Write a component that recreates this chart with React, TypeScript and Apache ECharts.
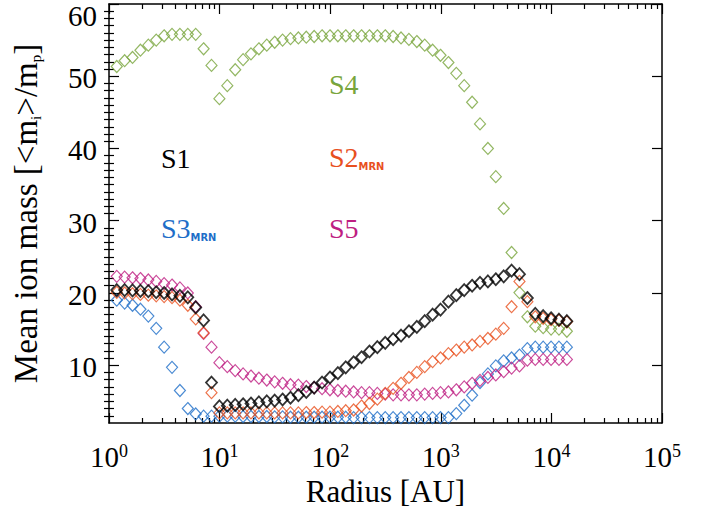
import React, { useEffect, useRef } from "react";
import * as echarts from "echarts";

// Radius grid (AU) (log-spaced markers)
const radius = [
  1.175, 1.385, 1.632, 1.924, 2.268, 2.673, 3.151, 3.714, 4.377, 5.159,
  6.081, 7.168, 8.449, 9.959, 11.74, 13.84, 16.31, 19.22, 22.66, 26.71,
  31.48, 37.11, 43.74, 51.55, 60.77, 71.61, 84.42, 99.49, 117.3, 138.2,
  162.9, 192.0, 226.3, 266.8, 314.5, 370.7, 436.9, 515.0, 607.0, 715.5,
  843.3, 994.0, 1172, 1381, 1628, 1919, 2262, 2666, 3143, 3704,
  4365, 5145, 6065, 7149, 8426, 9931, 11705, 13799,
];

const s1 = [
  20.4, 20.4, 20.35, 20.3, 20.25, 20.1, 20.0, 19.8, 19.6, 19.4,
  18.0, 16.2, 7.6, 4.3, 4.4, 4.5, 4.6, 4.7, 4.85, 5.0,
  5.1, 5.25, 5.5, 5.85, 6.3, 6.9, 7.6, 8.3, 8.9, 9.7,
  10.4, 11.1, 11.9, 12.5, 13.1, 13.6, 14.1, 14.7, 15.3, 16.1,
  17.0, 17.7, 18.8, 19.7, 20.4, 21.0, 21.4, 21.6, 21.9, 22.3,
  23.1, 22.6, 19.3, 17.1, 16.8, 16.5, 16.3, 16.1,
];

const s2 = [
  20.1, 20.0, 19.9, 19.8, 19.7, 19.6, 19.5, 19.35, 19.0, 18.3,
  16.4, 14.5, 6.2, 3.4, 3.4, 3.4, 3.4, 3.4, 3.4, 3.4,
  3.4, 3.4, 3.4, 3.4, 3.45, 3.45, 3.5, 3.5, 3.6, 3.7,
  3.8, 4.35, 4.7, 5.3, 6.1, 6.8, 7.5, 8.3, 9.0, 9.8,
  10.5, 11.0, 11.6, 12.1, 12.5, 12.8, 13.3, 13.7, 14.3, 15.1,
  18.1, 21.6, 18.8, 16.7, 16.5, 16.3, 16.2, 16.0,
];

const s3 = [
  19.0, 18.6, 18.3, 17.75, 16.8, 15.1, 12.5, 9.7, 6.5, 4.0,
  3.25, 2.95, 2.95, 2.95, 2.95, 2.95, 2.9, 2.9, 2.9, 2.9,
  2.85, 2.85, 2.8, 2.8, 2.8, 2.8, 2.8, 2.8, 2.8, 2.8,
  2.75, 2.75, 2.75, 2.75, 2.75, 2.75, 2.75, 2.75, 2.75, 2.75,
  2.75, 2.75, 2.75, 3.3, 4.45, 5.85, 7.6, 8.8, 9.9, 10.6,
  11.0, 11.4, 12.3, 12.5, 12.5, 12.5, 12.5, 12.5,
];

const s4 = [
  51.35, 52.15, 52.6, 53.6, 54.3, 55.0, 55.6, 55.8, 55.8, 55.8,
  55.8, 53.8, 51.5, 46.9, 48.7, 50.9, 52.3, 53.1, 53.8, 54.3,
  54.7, 55.0, 55.2, 55.3, 55.4, 55.5, 55.6, 55.6, 55.6, 55.6,
  55.6, 55.6, 55.6, 55.6, 55.6, 55.5, 55.3, 55.1, 54.8, 54.3,
  53.6, 52.9, 51.9, 50.4, 48.7, 46.4, 43.4, 40.0, 36.1, 31.7,
  25.6, 20.05, 16.7, 15.4, 15.2, 15.0, 15.0, 14.7,
];

const s5 = [
  22.3, 22.2, 22.1, 22.0, 21.8, 21.6, 21.3, 21.1, 20.7, 20.0,
  18.1, 14.4, 12.5, 10.35, 9.8, 9.25, 8.8, 8.5, 8.2, 7.95,
  7.7, 7.5, 7.3, 7.25, 7.05, 6.9, 6.75, 6.6, 6.5, 6.4,
  6.3, 6.2, 6.2, 6.1, 6.0, 5.9, 5.9, 5.9, 5.9, 6.0,
  6.1, 6.2, 6.3, 6.6, 7.0, 7.5, 7.9, 8.3, 8.65, 9.1,
  9.6, 9.9, 10.7, 10.8, 10.8, 10.8, 10.8, 10.8,
];

const yTickValues = [10, 20, 30, 40, 50, 60];
const xTickExponents = [0, 1, 2, 3, 4, 5];

const SERIF = "'Liberation Serif', 'DejaVu Serif', serif";
const SUBFONT = "'DejaVu Sans Condensed', 'DejaVu Sans', sans-serif";

const COLORS = {
  s1: "#000000",
  s2: "#E8501E",
  s3: "#1E6EC8",
  s4: "#78A53C",
  s5: "#BE1E82",
};

export default function App() {
  const ref = useRef<HTMLDivElement>(null);

  useEffect(() => {
    if (!ref.current) return;
    const chart = echarts.init(ref.current, null, { renderer: "svg" });

    // minor tick positions
    const yMinor: number[] = [];
    for (let v = 3; v < 60; v++) if (v % 10 !== 0) yMinor.push(v);
    const xMinorLog: number[] = [];
    for (let e = 0; e < 5; e++) for (let k = 2; k <= 9; k++) xMinorLog.push(Math.log10(k * Math.pow(10, e)));
    const xMajorLog = xTickExponents.slice();

    const tickStyle = { color: "#000", width: 1.2 };
    const frame = { color: "#000", width: 1.5 };

    const mk = (name: string, vals: number[], color: string, bw: number) => ({
      type: "scatter",
      name,
      xAxisIndex: 0,
      yAxisIndex: 0,
      data: radius.map((r, i) => [r, vals[i]]),
      symbol: "diamond",
      symbolSize: [11, 12],
      itemStyle: { color: "rgba(0,0,0,0)", borderColor: color, borderWidth: bw },
      emphasis: { disabled: true },
      silent: true,
    });

    const labelText = (x: number, y: number, main: string, sub: string | null, color: string) => ({
      type: "text",
      x,
      y,
      silent: true,
      style: {
        text: sub ? `{a|${main}}{s|${sub}}` : `{a|${main}}`,
        align: "left",
        verticalAlign: "middle",
        rich: {
          a: { fontSize: 28, fontFamily: SERIF, fill: color, color, lineHeight: 30 },
          s: {
            fontSize: 11,
            fontFamily: SUBFONT,
            fontWeight: "bold",
            fill: color,
            color,
            lineHeight: 16,
            verticalAlign: "bottom",
          },
        },
      },
    });

    chart.setOption({
      animation: false,
      backgroundColor: "#ffffff",
      grid: { left: 109, right: 50, top: 4, bottom: 88, containLabel: false, outerBoundsMode: "none" },
      xAxis: [
        {
          type: "log",
          logBase: 10,
          min: 1,
          max: 100000,
          splitNumber: 5,
          position: "bottom",
          axisLine: { show: true, onZero: false, lineStyle: frame },
          axisTick: { show: true, inside: true, length: 10, lineStyle: tickStyle },
          splitLine: { show: false },
          axisLabel: {
            margin: 19,
            formatter: (v: number) => `{b|10}{e|${Math.round(Math.log10(v))}}`,
            rich: {
              b: { fontSize: 29, fontFamily: SERIF, color: "#000", lineHeight: 30 },
              e: { fontSize: 18, fontFamily: SERIF, color: "#000", lineHeight: 14, verticalAlign: "top" },
            },
          },
          name: "Radius [AU]",
          nameLocation: "middle",
          nameGap: 53,
          nameTextStyle: { fontSize: 31, fontFamily: SERIF, color: "#000" },
        },
        {
          type: "value",
          min: 0,
          max: 5,
          position: "bottom",
          axisLine: { show: false },
          axisLabel: { show: false },
          splitLine: { show: false },
          axisTick: { show: true, inside: true, length: 5, customValues: xMinorLog, lineStyle: tickStyle },
        },
        {
          type: "value",
          min: 0,
          max: 5,
          position: "top",
          axisLine: { show: true, onZero: false, lineStyle: frame },
          axisLabel: { show: false },
          splitLine: { show: false },
          axisTick: { show: true, inside: true, length: 10, customValues: xMajorLog, lineStyle: tickStyle },
        },
        {
          type: "value",
          min: 0,
          max: 5,
          position: "top",
          axisLine: { show: false },
          axisLabel: { show: false },
          splitLine: { show: false },
          axisTick: { show: true, inside: true, length: 5, customValues: xMinorLog, lineStyle: tickStyle },
        },
      ],
      yAxis: [
        {
          type: "value",
          min: 2,
          max: 60,
          position: "left",
          axisLine: { show: true, onZero: false, lineStyle: frame },
          axisTick: { show: true, inside: true, length: 10, customValues: yTickValues, lineStyle: tickStyle },
          splitLine: { show: false },
          axisLabel: {
            customValues: yTickValues,
            margin: 12,
            formatter: (v: number) => (v >= 60 ? `{t|${v}}` : `{n|${v}}`),
            rich: {
              n: { fontSize: 29, fontFamily: SERIF, color: "#000", padding: [4, 0, 0, 0] },
              t: { fontSize: 29, fontFamily: SERIF, color: "#000", padding: [24, 0, 0, 0] },
            },
          },
          name: "{a|Mean ion mass [<m}{s|i}{a|>/m}{s|p}{a|]}",
          nameLocation: "middle",
          nameGap: 66,
          nameTextStyle: {
            rich: {
              a: { fontSize: 33, fontFamily: SERIF, color: "#000", lineHeight: 34 },
              s: { fontSize: 15, fontFamily: SERIF, color: "#000", lineHeight: 18, verticalAlign: "bottom" },
            },
          },
        },
        {
          type: "value",
          min: 2,
          max: 60,
          position: "left",
          axisLine: { show: false },
          axisLabel: { show: false },
          splitLine: { show: false },
          axisTick: { show: true, inside: true, length: 5, customValues: yMinor, lineStyle: tickStyle },
        },
        {
          type: "value",
          min: 2,
          max: 60,
          position: "right",
          axisLine: { show: true, onZero: false, lineStyle: frame },
          axisLabel: { show: false },
          splitLine: { show: false },
          axisTick: { show: true, inside: true, length: 10, customValues: yTickValues, lineStyle: tickStyle },
        },
        {
          type: "value",
          min: 2,
          max: 60,
          position: "right",
          axisLine: { show: false },
          axisLabel: { show: false },
          splitLine: { show: false },
          axisTick: { show: true, inside: true, length: 5, customValues: yMinor, lineStyle: tickStyle },
        },
      ],
      series: [
        mk("S4", s4, COLORS.s4, 1.2),
        mk("S3", s3, COLORS.s3, 1.2),
        mk("S5", s5, COLORS.s5, 1.2),
        mk("S2", s2, COLORS.s2, 1.2),
        mk("S1", s1, COLORS.s1, 1.8),
      ],
      graphic: [
        labelText(161, 158, "S1", null, COLORS.s1),
        labelText(161, 228, "S3", "MRN", COLORS.s3),
        labelText(329, 84, "S4", null, COLORS.s4),
        labelText(329, 157, "S2", "MRN", COLORS.s2),
        labelText(329, 228, "S5", null, COLORS.s5),
      ],
    });

    return () => chart.dispose();
  }, []);

  return (
    <div
      ref={ref}
      style={{ position: "fixed", left: 0, top: 0, width: 712, height: 511, background: "#fff" }}
    />
  );
}
